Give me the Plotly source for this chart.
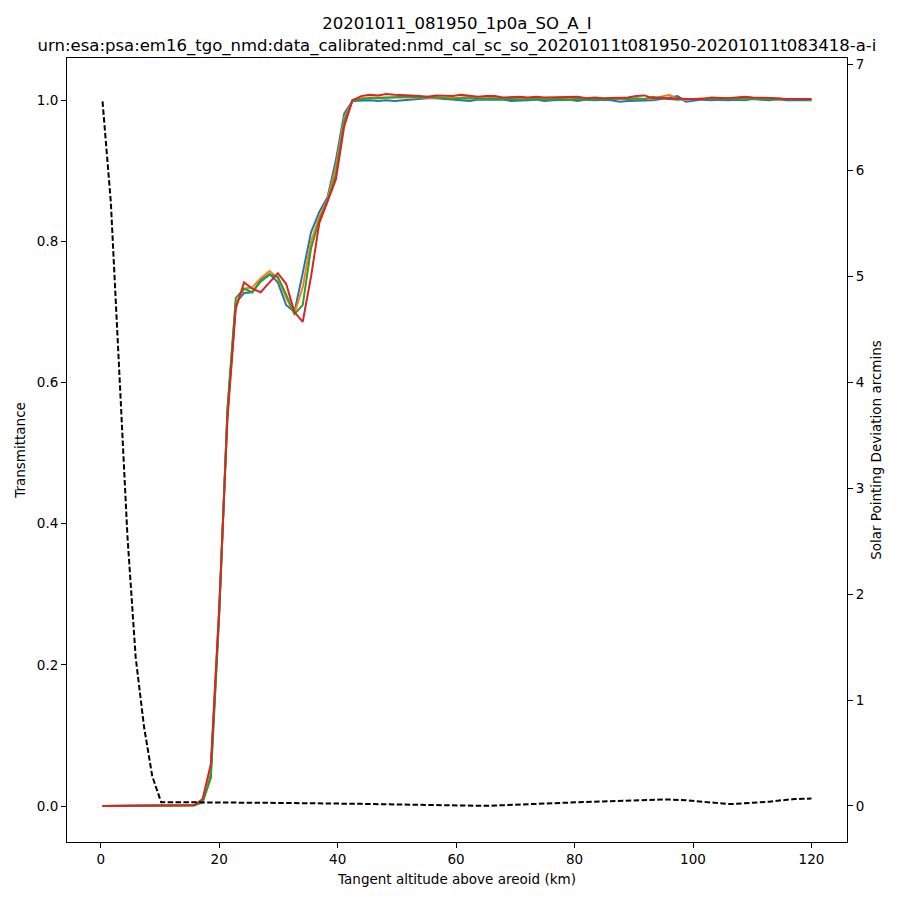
import plotly.graph_objects as go

# tangent altitude grid (km), shared by all bins
altitude = [
    0.3, 1.7, 3.1, 4.5, 5.9, 7.3, 8.7, 10.2, 11.6, 13.0,
    14.4, 15.8, 17.2, 18.6, 20.0, 21.4, 22.8, 24.2, 25.6, 27.0,
    28.5, 29.9, 31.3, 32.7, 34.1, 35.5, 36.9, 38.3, 39.7, 41.1,
    42.5, 44.0, 45.4, 46.8, 48.2, 49.6, 51.0, 52.4, 53.8, 55.2,
    56.6, 58.0, 59.4, 60.8, 62.3, 63.7, 65.1, 66.5, 67.9, 69.3,
    70.7, 72.1, 73.5, 74.9, 76.3, 77.7, 79.1, 80.5, 82.0, 83.4,
    84.8, 86.2, 87.6, 89.0, 90.4, 91.8, 93.2, 94.6, 96.0, 97.4,
    98.8, 100.2, 101.6, 103.1, 104.5, 105.9, 107.3, 108.7, 110.1, 111.5,
    112.9, 114.3, 115.7, 117.1, 118.5, 120.0,
]

trans_bin0 = [
    0.000, 0.000, 0.000, 0.000, 0.000, 0.000, 0.000, 0.000, 0.000, 0.000,
    0.000, 0.001, 0.006, 0.050, 0.275, 0.560, 0.713, 0.727, 0.728, 0.745,
    0.754, 0.742, 0.710, 0.700, 0.755, 0.813, 0.842, 0.863, 0.915, 0.981,
    0.999, 1.000, 1.000, 0.999, 1.000, 0.999, 1.000, 1.002, 1.003, 1.003,
    1.003, 1.002, 1.001, 1.000, 0.999, 1.001, 1.001, 1.002, 1.001, 0.999,
    0.999, 1.000, 1.001, 0.999, 1.000, 1.000, 1.001, 0.999, 1.001, 1.000,
    1.001, 1.000, 0.998, 0.999, 0.999, 0.999, 1.000, 1.002, 1.004, 1.006,
    0.998, 1.000, 1.001, 1.000, 1.001, 1.000, 1.001, 1.000, 1.002, 1.001,
    1.000, 1.002, 1.000, 1.000, 1.000, 1.000,
]

trans_bin1 = [
    0.000, 0.000, 0.000, 0.000, 0.000, 0.000, 0.000, 0.000, 0.000, 0.000,
    0.000, 0.001, 0.008, 0.055, 0.280, 0.555, 0.712, 0.733, 0.735, 0.748,
    0.758, 0.748, 0.720, 0.698, 0.735, 0.800, 0.835, 0.860, 0.905, 0.975,
    1.000, 1.003, 1.004, 1.004, 1.005, 1.004, 1.005, 1.005, 1.004, 1.004,
    1.003, 1.003, 1.004, 1.004, 1.005, 1.003, 1.003, 1.004, 1.002, 1.002,
    1.003, 1.003, 1.002, 1.002, 1.003, 1.002, 1.002, 1.003, 1.002, 1.003,
    1.003, 1.002, 1.003, 1.002, 1.003, 1.003, 1.002, 1.005, 1.008, 1.002,
    1.001, 1.002, 1.003, 1.002, 1.003, 1.003, 1.002, 1.003, 1.003, 1.002,
    1.003, 1.002, 1.002, 1.002, 1.001, 1.002,
]

trans_bin2 = [
    0.000, 0.000, 0.000, 0.000, 0.000, 0.000, 0.000, 0.000, 0.000, 0.000,
    0.000, 0.001, 0.005, 0.040, 0.270, 0.565, 0.720, 0.733, 0.728, 0.743,
    0.753, 0.750, 0.725, 0.697, 0.710, 0.790, 0.830, 0.858, 0.895, 0.970,
    1.000, 1.002, 1.003, 1.003, 1.004, 1.004, 1.005, 1.005, 1.004, 1.005,
    1.004, 1.002, 1.002, 1.003, 1.003, 1.003, 1.002, 1.002, 1.003, 1.002,
    1.001, 1.002, 1.002, 1.001, 1.002, 1.002, 1.001, 1.002, 1.001, 1.002,
    1.001, 1.002, 1.003, 1.002, 1.003, 1.002, 1.005, 1.003, 1.002, 1.001,
    1.002, 1.002, 1.001, 1.002, 1.001, 1.001, 1.002, 1.003, 1.002, 1.002,
    1.002, 1.001, 1.002, 1.001, 1.002, 1.000,
]

trans_bin3 = [
    0.000, 0.000, 0.000, 0.000, 0.000, 0.000, 0.000, 0.000, 0.000, 0.000,
    0.000, 0.001, 0.010, 0.060, 0.280, 0.550, 0.705, 0.742, 0.733, 0.728,
    0.742, 0.755, 0.740, 0.700, 0.686, 0.750, 0.826, 0.858, 0.888, 0.963,
    1.000, 1.006, 1.008, 1.007, 1.009, 1.008, 1.008, 1.007, 1.006, 1.005,
    1.007, 1.007, 1.006, 1.008, 1.006, 1.005, 1.006, 1.006, 1.004, 1.005,
    1.005, 1.004, 1.005, 1.004, 1.004, 1.005, 1.004, 1.005, 1.003, 1.004,
    1.003, 1.003, 1.004, 1.004, 1.006, 1.007, 1.003, 1.004, 1.002, 1.003,
    1.002, 1.002, 1.002, 1.004, 1.003, 1.003, 1.004, 1.005, 1.004, 1.004,
    1.003, 1.003, 1.002, 1.002, 1.002, 1.002,
]

# solar pointing deviation (arcmins)
pointing_dev = [
    6.65, 5.70, 4.13, 2.55, 1.40, 0.75, 0.28, 0.035, 0.036, 0.036,
    0.036, 0.035, 0.034, 0.034, 0.033, 0.033, 0.032, 0.032, 0.031, 0.030,
    0.030, 0.029, 0.028, 0.028, 0.027, 0.026, 0.025, 0.024, 0.023, 0.022,
    0.021, 0.020, 0.019, 0.018, 0.016, 0.015, 0.014, 0.012, 0.010, 0.009,
    0.007, 0.005, 0.003, 0.001, 0.000, 0.000, 0.001, 0.004, 0.008, 0.012,
    0.016, 0.019, 0.022, 0.024, 0.026, 0.029, 0.032, 0.035, 0.038, 0.041,
    0.044, 0.047, 0.050, 0.053, 0.055, 0.057, 0.058, 0.060, 0.060, 0.060,
    0.055, 0.048, 0.040, 0.030, 0.022, 0.018, 0.020, 0.024, 0.028, 0.033,
    0.040, 0.050, 0.060, 0.065, 0.068, 0.070,
]

bins = [trans_bin0, trans_bin1, trans_bin2, trans_bin3]
colours = ["#1f77b4", "#ff7f0e", "#2ca02c", "#d62728"]

title_line1 = "20201011_081950_1p0a_SO_A_I"
title_line2 = "urn:esa:psa:em16_tgo_nmd:data_calibrated:nmd_cal_sc_so_20201011t081950-20201011t083418-a-i"

fig = go.Figure()
for vals, col in zip(bins, colours):
    fig.add_trace(go.Scatter(x=altitude, y=vals, mode="lines",
                             line=dict(color=col, width=2), yaxis="y"))

fig.add_trace(go.Scatter(x=altitude, y=pointing_dev, mode="lines",
                         line=dict(color="black", width=2, dash="5.5px,2.4px"),
                         yaxis="y2"))

axis_common = dict(showline=True, linecolor="black", linewidth=1,
                   ticks="outside", ticklen=5, tickcolor="black",
                   showgrid=False, zeroline=False, automargin=False,
                   tickfont=dict(size=13.5, color="black"))

# page has an ~8px body margin, so the figure is a bit smaller than the window
fig.update_layout(
    width=884, height=884,
    paper_bgcolor="white", plot_bgcolor="white",
    font=dict(family="DejaVu Sans", color="black"),
    showlegend=False,
    margin=dict(l=59, r=45, t=50, b=50),
    title=dict(text=title_line1 + "<br>" + title_line2,
               x=0.5, xref="paper", xanchor="center",
               y=0.976, yref="container", yanchor="top",
               font=dict(size=16.5, color="black")),
    xaxis=dict(range=[-5.7, 126.0], tickvals=[0, 20, 40, 60, 80, 100, 120],
               mirror=True,
               title=dict(text="Tangent altitude above areoid (km)",
                          font=dict(size=13.5), standoff=8),
               **axis_common),
    yaxis=dict(range=[-0.051, 1.06], tickvals=[0, 0.2, 0.4, 0.6, 0.8, 1.0],
               tickformat=".1f",
               title=dict(text="Transmittance", font=dict(size=13.5), standoff=8),
               **axis_common),
    yaxis2=dict(range=[-0.34, 7.06], tickvals=[0, 1, 2, 3, 4, 5, 6, 7],
                overlaying="y", side="right",
                title=dict(text="Solar Pointing Deviation arcmins",
                           font=dict(size=13.5), standoff=8),
                **axis_common),
)

fig.write_html("out.html")
